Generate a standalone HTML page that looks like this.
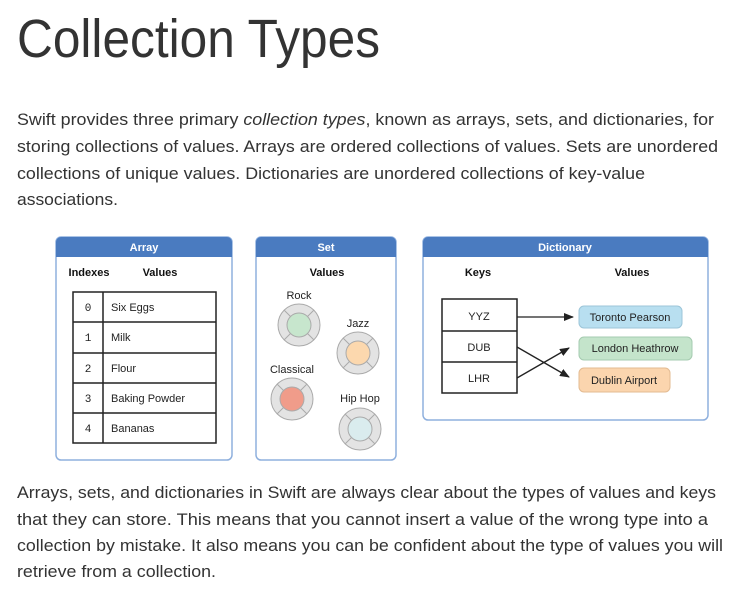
<!DOCTYPE html>
<html><head><meta charset="utf-8"><style>
html,body{margin:0;padding:0;background:#fff;}
svg{display:block;font-family:"Liberation Sans",Arial,sans-serif;}
</style></head><body>
<svg width="743" height="592" viewBox="0 0 743 592" xmlns="http://www.w3.org/2000/svg">
<defs>
<marker id="ah" markerWidth="10" markerHeight="8" refX="9" refY="4" orient="auto" markerUnits="userSpaceOnUse">
<path d="M0,0 L10,4 L0,8 Z" fill="#222"/></marker>
</defs>
<g fill="#333">
<text x="17" y="57" font-size="54" textLength="363" lengthAdjust="spacingAndGlyphs">Collection Types</text>
<g font-size="17">
<text x="17" y="125" textLength="697" lengthAdjust="spacingAndGlyphs">Swift provides three primary <tspan font-style="italic">collection types</tspan>, known as arrays, sets, and dictionaries, for</text>
<text x="17" y="152" textLength="701" lengthAdjust="spacingAndGlyphs">storing collections of values. Arrays are ordered collections of values. Sets are unordered</text>
<text x="17" y="179" textLength="628" lengthAdjust="spacingAndGlyphs">collections of unique values. Dictionaries are unordered collections of key-value</text>
<text x="17" y="205" textLength="101" lengthAdjust="spacingAndGlyphs">associations.</text>
<text x="17" y="498" textLength="699" lengthAdjust="spacingAndGlyphs">Arrays, sets, and dictionaries in Swift are always clear about the types of values and keys</text>
<text x="17" y="525" textLength="691" lengthAdjust="spacingAndGlyphs">that they can store. This means that you cannot insert a value of the wrong type into a</text>
<text x="17" y="551" textLength="706" lengthAdjust="spacingAndGlyphs">collection by mistake. It also means you can be confident about the type of values you will</text>
<text x="17" y="577" textLength="199" lengthAdjust="spacingAndGlyphs">retrieve from a collection.</text>
</g></g>

<!-- boxes -->
<g stroke="#8fb0de" stroke-width="1.5" fill="#fff">
<rect x="56" y="237" width="176" height="223" rx="5"/>
<rect x="256" y="237" width="140" height="223" rx="5"/>
<rect x="423" y="237" width="285" height="183" rx="5"/>
</g>
<g fill="#4a7bc0">
<path d="M56,257 V242 a5,5 0 0 1 5,-5 H227 a5,5 0 0 1 5,5 V257 Z"/>
<path d="M256,257 V242 a5,5 0 0 1 5,-5 H391 a5,5 0 0 1 5,5 V257 Z"/>
<path d="M423,257 V242 a5,5 0 0 1 5,-5 H703 a5,5 0 0 1 5,5 V257 Z"/>
</g>
<g fill="#fff" font-size="11" font-weight="bold" text-anchor="middle">
<text x="144" y="251">Array</text>
<text x="326" y="251">Set</text>
<text x="565" y="251">Dictionary</text>
</g>
<g fill="#111" font-size="11" font-weight="bold" text-anchor="middle">
<text x="89" y="276">Indexes</text>
<text x="160" y="276">Values</text>
<text x="327" y="276">Values</text>
<text x="478" y="276">Keys</text>
<text x="632" y="276">Values</text>
</g>

<!-- array table -->
<g stroke="#222" stroke-width="1.5" fill="none">
<rect x="73" y="292" width="143" height="151"/>
<line x1="103" y1="292" x2="103" y2="443"/>
<line x1="73" y1="322" x2="216" y2="322"/>
<line x1="73" y1="353" x2="216" y2="353"/>
<line x1="73" y1="383" x2="216" y2="383"/>
<line x1="73" y1="413" x2="216" y2="413"/>
</g>
<g fill="#222" font-size="11">
<g font-family="Liberation Mono,monospace" text-anchor="middle">
<text x="88" y="311">0</text><text x="88" y="341">1</text><text x="88" y="372">2</text><text x="88" y="402">3</text><text x="88" y="432">4</text>
</g>
<text x="111" y="311">Six Eggs</text><text x="111" y="341">Milk</text><text x="111" y="372">Flour</text><text x="111" y="402">Baking Powder</text><text x="111" y="432">Bananas</text>
</g>

<!-- set circles -->
<g font-size="11" fill="#222" text-anchor="middle">
<text x="299" y="299">Rock</text>
<text x="358" y="327">Jazz</text>
<text x="292" y="373">Classical</text>
<text x="360" y="402">Hip Hop</text>
</g>
<g stroke="#aaa" stroke-width="1">
<g transform="translate(299,325)"><circle r="21" fill="#e3e3e3"/><path d="M-15,-15 L15,15 M15,-15 L-15,15"/><circle r="12" fill="#c7e6cd"/></g>
<g transform="translate(358,353)"><circle r="21" fill="#e3e3e3"/><path d="M-15,-15 L15,15 M15,-15 L-15,15"/><circle r="12" fill="#fcd8ae"/></g>
<g transform="translate(292,399)"><circle r="21" fill="#e3e3e3"/><path d="M-15,-15 L15,15 M15,-15 L-15,15"/><circle r="12" fill="#f09c8a"/></g>
<g transform="translate(360,429)"><circle r="21" fill="#e3e3e3"/><path d="M-15,-15 L15,15 M15,-15 L-15,15"/><circle r="12" fill="#daecee"/></g>
</g>

<!-- dictionary -->
<g stroke="#222" stroke-width="1.5" fill="none">
<rect x="442" y="299" width="75" height="94"/>
<line x1="442" y1="331" x2="517" y2="331"/>
<line x1="442" y1="362" x2="517" y2="362"/>
</g>
<g fill="#222" font-size="11" text-anchor="middle">
<text x="479" y="320">YYZ</text><text x="479" y="351">DUB</text><text x="479" y="382">LHR</text>
</g>
<g stroke="#222" stroke-width="1.3" fill="none" marker-end="url(#ah)">
<line x1="517" y1="317" x2="573" y2="317"/>
<line x1="517" y1="347" x2="569" y2="377"/>
<line x1="517" y1="378" x2="569" y2="348"/>
</g>
<g stroke-width="1">
<rect x="579" y="306" width="103" height="22" rx="5" fill="#b8dff0" stroke="#9cc5d8"/>
<rect x="579" y="337" width="113" height="23" rx="5" fill="#c4e4cb" stroke="#a5cbb0"/>
<rect x="579" y="368" width="91" height="24" rx="5" fill="#fbd5ae" stroke="#e3bb92"/>
</g>
<g fill="#222" font-size="11" text-anchor="middle">
<text x="630" y="321">Toronto Pearson</text>
<text x="635" y="352">London Heathrow</text>
<text x="624" y="384">Dublin Airport</text>
</g>
</svg>
</body></html>
